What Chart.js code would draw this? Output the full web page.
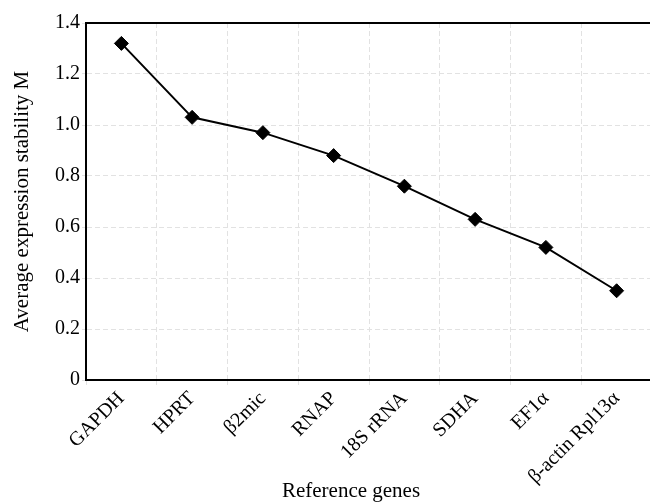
<!DOCTYPE html>
<html>
<head>
<meta charset="utf-8">
<script src="https://cdn.jsdelivr.net/npm/chart.js@4.4.1/dist/chart.umd.min.js"></script>
<style>
  html, body { margin: 0; padding: 0; background: #fff; overflow: hidden; }
  #wrap { width: 660px; height: 502px; }
</style>
</head>
<body>
<div id="wrap"><canvas id="c" width="660" height="502"></canvas></div>
<script>
// Reference genes ranked by geNorm average expression stability (M)
const genes = ['GAPDH', 'HPRT', 'β2mic', 'RNAP', '18S rRNA', 'SDHA', 'EF1α', 'β-actin Rpl13α'];
const stabilityM = [1.32, 1.03, 0.97, 0.88, 0.76, 0.63, 0.52, 0.35];
const yTicks = [0, 0.2, 0.4, 0.6, 0.8, 1.0, 1.2, 1.4];
const xTitle = 'Reference genes';
const yTitle = 'Average expression stability M';

const serif = "'Liberation Serif', 'Times New Roman', serif";
const gridGrey = '#e2e2e2';

// Closes the frame along the top of the plot area and writes the x-axis caption
const frameAndCaption = {
  id: 'frameAndCaption',
  afterDraw(chart) {
    const { ctx, chartArea } = chart;
    ctx.save();
    ctx.strokeStyle = '#000';
    ctx.lineWidth = 2;
    ctx.beginPath();
    ctx.moveTo(chartArea.left - 1, chartArea.top);
    ctx.lineTo(chartArea.right, chartArea.top);
    ctx.stroke();

    ctx.fillStyle = '#000';
    ctx.font = '21px ' + serif;
    ctx.textAlign = 'center';
    ctx.textBaseline = 'alphabetic';
    const cx = (chartArea.left + chartArea.right) / 2 - 18;
    ctx.fillText(xTitle, cx, chart.height - 5);
    ctx.restore();
  }
};

new Chart(document.getElementById('c'), {
  type: 'line',
  data: {
    labels: genes,
    datasets: [{
      data: stabilityM,
      borderColor: '#000',
      backgroundColor: '#000',
      borderWidth: 2,
      tension: 0,
      pointStyle: 'rectRot',
      pointRadius: 7,
      pointBackgroundColor: '#000',
      pointBorderColor: '#000',
      pointBorderWidth: 1,
      fill: false
    }]
  },
  options: {
    responsive: false,
    animation: false,
    events: [],
    layout: { padding: { top: 23, right: 6, left: 0, bottom: 0 } },
    plugins: {
      legend: { display: false },
      tooltip: { enabled: false }
    },
    scales: {
      x: {
        offset: true,
        grid: {
          color: gridGrey,
          offset: true,
          tickLength: 5
        },
        border: { display: true, color: '#000', width: 2, dash: [5, 3] },
        ticks: {
          color: '#000',
          font: { family: serif, size: 20 },
          minRotation: 45,
          maxRotation: 45,
          autoSkip: false,
          padding: 2
        },
        title: { display: false },
        afterFit(scale) { scale.height = 122; }
      },
      y: {
        min: 0,
        max: 1.4,
        afterBuildTicks(scale) { scale.ticks = yTicks.map(v => ({ value: v })); },
        grid: {
          color: gridGrey,
          tickLength: 4
        },
        border: { display: true, color: '#000', width: 2, dash: [5, 3] },
        ticks: {
          color: '#000',
          font: { family: serif, size: 20 },
          padding: 2,
          callback: v => (v === 0 ? '0' : v.toFixed(1))
        },
        title: {
          display: true,
          text: yTitle,
          color: '#000',
          font: { family: serif, size: 21 },
          padding: { top: 10, bottom: 0 }
        },
        afterFit(scale) { scale.width = 86; }
      }
    }
  },
  plugins: [frameAndCaption]
});
</script>
</body>
</html>
